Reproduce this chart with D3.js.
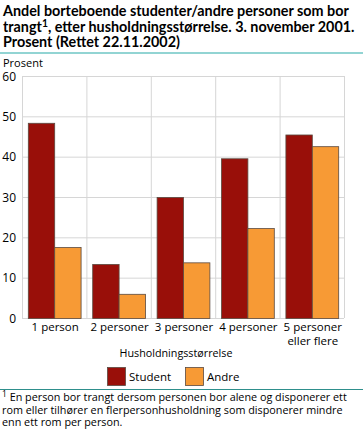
<!DOCTYPE html>
<html>
<head>
<meta charset="utf-8">
<script src="https://cdn.jsdelivr.net/npm/d3@7"></script>
<style>
  body { margin: 0; background: #fff; }
  svg { font-family: 'Open Sans', sans-serif; }
</style>
</head>
<body>
<script>
(function() {
  'use strict';

  const categories = ['1 person', '2 personer', '3 personer', '4 personer', '5 personer|eller flere'];
  const seriesNames = ['Student', 'Andre'];
  const student = [48.4, 13.4, 30.0, 39.6, 45.5];
  const andre = [17.6, 6.0, 13.8, 22.3, 42.6];
  const yTicks = [0, 10, 20, 30, 40, 50, 60];
  const colors = ['#990f09', '#f79a35'];

  const w = 363;
  const h = 438;
  const left = 22;
  const right = 344;
  const top = 76;
  const bottom = 318;

  const svg = d3.select('body')
    .append('svg')
    .attr('width', w)
    .attr('height', h);

  // shrink a text's font until it fits the given width
  function fit(sel, maxW) {
    const node = sel.node();
    const len = node.getComputedTextLength();
    if (len > maxW) {
      const fs = parseFloat(sel.style('font-size'));
      sel.style('font-size', (fs * maxW / len).toFixed(2) + 'px');
    }
    return sel;
  }

  // title
  const titleLines = [
    ['Andel borteboende studenter/andre personer som bor'],
    ['trangt', '1', ', etter husholdningsstørrelse. 3. november 2001.'],
    ['Prosent (Rettet 22.11.2002)']
  ];
  const titleG = svg.append('g')
    .style('font-family', 'Lato, sans-serif');
  titleLines.forEach((parts, i) => {
    const t = titleG.append('text')
      .attr('x', 3)
      .attr('y', 16 + i * 15.5)
      .style('font-weight', 'bold')
      .attr('fill', '#000');
    if (parts.length === 1) {
      t.text(parts[0]);
    } else {
      t.append('tspan').text(parts[0]);
      t.append('tspan').attr('dy', -5).style('font-size', '0.72em').text(parts[1]);
      t.append('tspan').attr('dy', 5).text(parts[2]);
    }
  });
  // size the title so that its first line spans like the original
  titleG.style('font-size', '14px');
  const firstLen = titleG.select('text').node().getComputedTextLength();
  titleG.style('font-size', Math.min(15, 14 * 346 / firstLen).toFixed(2) + 'px');

  svg.append('line')
    .attr('x1', 0).attr('x2', w)
    .attr('y1', 53).attr('y2', 53)
    .attr('stroke', '#6ec6c4')
    .attr('stroke-width', 1.5);

  svg.append('text')
    .attr('x', 3)
    .attr('y', 67)
    .style('font-size', '11px')
    .text('Prosent');

  const x0 = d3.scaleBand()
    .domain(categories)
    .range([left, right]);
  const x1 = d3.scaleBand()
    .domain(seriesNames)
    .range([0, x0.bandwidth()])
    .paddingOuter(0.22);
  const y = d3.scaleLinear()
    .domain([0, 60])
    .range([bottom, top]);

  // grid
  svg.append('g')
    .selectAll('line')
    .data(yTicks)
    .enter()
    .append('line')
    .attr('x1', left).attr('x2', right)
    .attr('y1', (d) => y(d) + 0.5).attr('y2', (d) => y(d) + 0.5)
    .attr('stroke', '#d6d6d6');

  svg.append('g')
    .selectAll('line')
    .data(categories.concat(['end']))
    .enter()
    .append('line')
    .attr('x1', (d, i) => (i < categories.length ? x0(d) : right) + 0.5)
    .attr('x2', (d, i) => (i < categories.length ? x0(d) : right) + 0.5)
    .attr('y1', top).attr('y2', bottom)
    .attr('stroke', '#d6d6d6');

  // y tick labels
  svg.append('g')
    .selectAll('text')
    .data(yTicks)
    .enter()
    .append('text')
    .attr('x', 16)
    .attr('y', (d) => y(d) + 4.5)
    .style('text-anchor', 'end')
    .style('font-size', '12px')
    .text((d) => d);

  // bars
  const groups = svg.append('g')
    .selectAll('g')
    .data(categories)
    .enter()
    .append('g')
    .attr('transform', (d) => 'translate(' + x0(d) + ',0)');

  groups.selectAll('rect')
    .data((d, i) => [
      { key: 'Student', value: student[i] },
      { key: 'Andre', value: andre[i] }
    ])
    .enter()
    .append('rect')
    .attr('x', (d) => x1(d.key) + 0.5)
    .attr('y', (d) => y(d.value) + 0.5)
    .attr('width', x1.bandwidth())
    .attr('height', (d) => y(0) - y(d.value))
    .attr('fill', (d, i) => colors[i])
    .attr('stroke', '#5a4a40')
    .attr('stroke-width', 0.8);

  // category labels
  categories.forEach((c) => {
    const lines = c.split('|');
    lines.forEach((l, j) => {
      svg.append('text')
        .attr('x', x0(c) + x0.bandwidth() / 2 + 1)
        .attr('y', 331 + j * 14)
        .style('text-anchor', 'middle')
        .style('font-size', '11.5px')
        .text(l);
    });
  });

  fit(svg.append('text')
    .attr('x', 176)
    .attr('y', 357)
    .style('text-anchor', 'middle')
    .style('font-size', '11.5px')
    .text('Husholdningsstørrelse'), 113);

  // legend
  const legendX = [107, 185];
  seriesNames.forEach((s, i) => {
    svg.append('rect')
      .attr('x', legendX[i] + 0.5)
      .attr('y', 367.5)
      .attr('width', 18)
      .attr('height', 18)
      .attr('fill', colors[i])
      .attr('stroke', '#5a4a40')
      .attr('stroke-width', 0.8);
    svg.append('text')
      .attr('x', legendX[i] + 22)
      .attr('y', 381)
      .style('font-size', '11.5px')
      .text(s);
  });

  svg.append('line')
    .attr('x1', 0).attr('x2', w)
    .attr('y1', 389.5).attr('y2', 389.5)
    .attr('stroke', '#2e8f8c')
    .attr('stroke-width', 1);

  const notes = [
    'En person bor trangt dersom personen bor alene og disponerer ett',
    'rom eller tilhører en flerpersonhusholdning som disponerer mindre',
    'enn ett rom per person.'
  ];
  const fn = svg.append('text')
    .attr('x', 2)
    .attr('y', 401)
    .style('font-size', '10.8px');
  fn.append('tspan').attr('dy', -4).style('font-size', '8.5px').text('1');
  fn.append('tspan').attr('dy', 4).text(' ' + notes[0]);
  fit(fn, 346);
  notes.slice(1).forEach((n, i) => {
    svg.append('text')
      .attr('x', 2)
      .attr('y', 413.5 + i * 12.5)
      .style('font-size', '10.8px')
      .text(n);
  });
}());
</script>
</body>
</html>
